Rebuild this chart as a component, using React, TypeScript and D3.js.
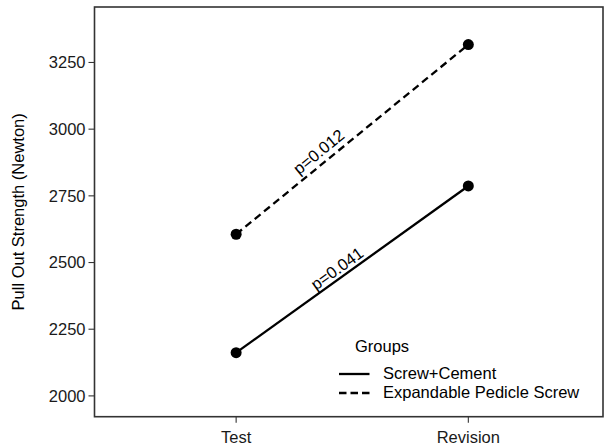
import React, { useEffect, useRef } from "react";
import * as d3 from "d3";

const stages = ["Test", "Revision"];
const groups = ["Screw+Cement", "Expandable Pedicle Screw"];
const screwCement = [2162, 2787];
const expandable = [2606, 3317];
const yTicks = [2000, 2250, 2500, 2750, 3000, 3250];
const pLabels = ["p=0.041", "p=0.012"];
const pLabelPos = [
  { x: 1.434, y: 2478 },
  { x: 1.355, y: 2916 },
];

const FONT = "'Liberation Sans', Arial, Helvetica, sans-serif";

export default function App() {
  const ref = useRef<SVGSVGElement | null>(null);

  useEffect(() => {
    const width = 605;
    const height = 445;
    const panel = { left: 94.5, right: 603, top: 7, bottom: 416.7 };

    const svg = d3.select(ref.current);
    svg.selectAll("*").remove();
    svg.attr("width", width).attr("height", height);

    const xScale = d3.scaleLinear().domain([0.39, 2.58]).range([panel.left, panel.right]);
    const yScale = d3.scaleLinear().domain([1922, 3458]).range([panel.bottom, panel.top]);

    // panel
    svg
      .append("rect")
      .attr("x", panel.left)
      .attr("y", panel.top)
      .attr("width", panel.right - panel.left)
      .attr("height", panel.bottom - panel.top)
      .attr("fill", "white")
      .attr("stroke", "#333")
      .attr("stroke-width", 1.6);

    // y axis
    const yAxis = svg.append("g");
    yTicks.forEach((t) => {
      yAxis
        .append("line")
        .attr("x1", panel.left - 6)
        .attr("x2", panel.left)
        .attr("y1", yScale(t))
        .attr("y2", yScale(t))
        .attr("stroke", "#333")
        .attr("stroke-width", 1.1);
      yAxis
        .append("text")
        .attr("x", panel.left - 9)
        .attr("y", yScale(t))
        .attr("dy", "0.36em")
        .attr("text-anchor", "end")
        .attr("font-family", FONT)
        .attr("font-size", 16.5)
        .attr("fill", "#1a1a1a")
        .text(t);
    });

    // x axis
    const xAxis = svg.append("g");
    stages.forEach((s, i) => {
      xAxis
        .append("line")
        .attr("x1", xScale(i + 1))
        .attr("x2", xScale(i + 1))
        .attr("y1", panel.bottom)
        .attr("y2", panel.bottom + 6)
        .attr("stroke", "#333")
        .attr("stroke-width", 1.1);
      xAxis
        .append("text")
        .attr("x", xScale(i + 1))
        .attr("y", panel.bottom + 26)
        .attr("text-anchor", "middle")
        .attr("font-family", FONT)
        .attr("font-size", 16.5)
        .attr("fill", "#1a1a1a")
        .text(s);
    });

    // y title
    svg
      .append("text")
      .attr("transform", `translate(18,${(panel.top + panel.bottom) / 2}) rotate(-90)`)
      .attr("dy", "0.36em")
      .attr("text-anchor", "middle")
      .attr("font-family", FONT)
      .attr("font-size", 16.5)
      .attr("fill", "#000")
      .text("Pull Out Strength (Newton)");

    const series = [
      { values: screwCement, dash: null as string | null },
      { values: expandable, dash: "7.5,4.5" },
    ];

    const line = d3
      .line<number>()
      .x((_, i) => xScale(i + 1))
      .y((d) => yScale(d));

    series.forEach((s, k) => {
      const path = svg
        .append("path")
        .datum(s.values)
        .attr("fill", "none")
        .attr("stroke", "#000")
        .attr("stroke-width", 2.3)
        .attr("d", line);
      if (s.dash) path.attr("stroke-dasharray", s.dash);

      svg
        .selectAll(".dot" + k)
        .data(s.values)
        .enter()
        .append("circle")
        .attr("cx", (_, i) => xScale(i + 1))
        .attr("cy", (d) => yScale(d))
        .attr("r", 5.5)
        .attr("fill", "#000");

      // p value label along the line
      const dx = xScale(2) - xScale(1);
      const dy = yScale(s.values[1]) - yScale(s.values[0]);
      const angle = (Math.atan2(dy, dx) * 180) / Math.PI;
      const px = xScale(pLabelPos[k].x);
      const py = yScale(pLabelPos[k].y);
      svg
        .append("text")
        .attr("transform", `translate(${px},${py}) rotate(${angle})`)
        .attr("dy", "0.36em")
        .attr("text-anchor", "middle")
        .attr("font-family", FONT)
        .attr("font-size", 16.5)
        .attr("fill", "#000")
        .text(pLabels[k]);
    });

    // legend
    const legend = svg.append("g");
    legend
      .append("text")
      .attr("x", 355)
      .attr("y", 346)
      .attr("dy", "0.36em")
      .attr("font-family", FONT)
      .attr("font-size", 16.5)
      .text("Groups");
    const rows = [374, 393];
    groups.forEach((g, i) => {
      const l = legend
        .append("line")
        .attr("x1", 339)
        .attr("x2", 369.5)
        .attr("y1", rows[i])
        .attr("y2", rows[i])
        .attr("stroke", "#000")
        .attr("stroke-width", 2.3);
      if (series[i].dash) l.attr("stroke-dasharray", "7.5,4");
      legend
        .append("text")
        .attr("x", 383)
        .attr("y", rows[i] - 1)
        .attr("dy", "0.36em")
        .attr("font-family", FONT)
        .attr("font-size", 16.5)
        .text(g);
    });
  }, []);

  return (
    <svg
      ref={ref}
      style={{ position: "absolute", left: 0, top: 0, background: "white" }}
    />
  );
}
